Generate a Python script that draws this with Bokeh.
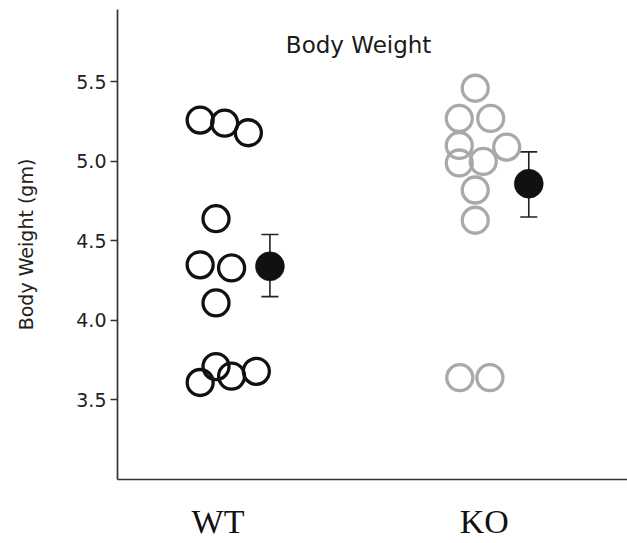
from bokeh.plotting import figure
from bokeh.models import Range1d, FixedTicker, Label, Whisker, ColumnDataSource, TeeHead
from bokeh.embed import file_html
from bokeh.resources import INLINE

# ---- data ----
groups = ["WT", "KO"]
group_pos = [1, 2]

wt_weight = [5.26, 5.24, 5.18, 4.64, 4.35, 4.33, 4.11, 3.61, 3.71, 3.65, 3.68]
wt_jitter = [-0.067, 0.025, 0.114, -0.0075, -0.067, 0.051, -0.0075, -0.067, -0.0075, 0.051, 0.144]

ko_weight = [5.46, 5.27, 5.27, 5.10, 5.09, 4.99, 5.00, 4.82, 4.63, 3.64, 3.64]
ko_jitter = [-0.034, -0.094, 0.024, -0.094, 0.084, -0.094, -0.004, -0.034, -0.034, -0.092, 0.021]

mean_weight = [4.34, 4.86]
sem_low = [4.15, 4.65]
sem_high = [4.54, 5.06]
mean_jitter = [0.195, 0.167]

y_ticks = [3.5, 4.0, 4.5, 5.0, 5.5]

# ---- figure ----
p = figure(width=627, height=543, output_backend="svg", toolbar_location=None,
           x_range=Range1d(0.6226, 2.5377), y_range=Range1d(3.0, 5.955),
           min_border_left=117, min_border_right=0, min_border_top=9, min_border_bottom=64)
p.outline_line_color = None
p.xgrid.visible = False
p.ygrid.visible = False
p.background_fill_color = "white"
p.border_fill_color = "white"

wt_x = [group_pos[0] + j for j in wt_jitter]
ko_x = [group_pos[1] + j for j in ko_jitter]
p.scatter(wt_x, wt_weight, size=26, fill_color=None, line_color="#111111", line_width=3.3)
p.scatter(ko_x, ko_weight, size=26, fill_color=None, line_color="#a9a9a9", line_width=3.3)

mx = [g + j for g, j in zip(group_pos, mean_jitter)]
src = ColumnDataSource(dict(x=mx, m=mean_weight, lo=sem_low, hi=sem_high))
wh = Whisker(source=src, base="x", lower="lo", upper="hi", dimension="height",
             line_color="#222222", line_width=1.6,
             lower_head=TeeHead(size=17, line_color="#222222", line_width=1.6),
             upper_head=TeeHead(size=17, line_color="#222222", line_width=1.6))
p.add_layout(wh)
p.scatter("x", "m", source=src, size=29, fill_color="#111111", line_color="#111111", line_width=0.5)

# title inside plot area
p.add_layout(Label(x=1.528, y=5.734, text="Body Weight", text_align="center",
                   text_baseline="alphabetic", text_font="DejaVu Sans",
                   text_font_size="23px", text_color="#1a1a1a"))

# y axis
ya = p.yaxis[0]
ya.ticker = FixedTicker(ticks=y_ticks)
ya.major_label_overrides = {t: f"{t:.1f}" for t in y_ticks}
ya.minor_tick_line_color = None
ya.major_tick_in = 0
ya.major_tick_out = 7
ya.major_label_standoff = 4
ya.major_label_text_font = "DejaVu Sans"
ya.major_label_text_font_size = "19px"
ya.major_label_text_color = "#222222"
ya.axis_line_color = "#333333"
ya.axis_line_width = 1.7
ya.major_tick_line_color = "#333333"
ya.major_tick_line_width = 1.7
ya.axis_label = "Body Weight (gm)"
ya.axis_label_text_font = "DejaVu Sans"
ya.axis_label_text_font_style = "normal"
ya.axis_label_text_font_size = "19px"
ya.axis_label_text_color = "#222222"
ya.axis_label_standoff = 36

# x axis
xa = p.xaxis[0]
xa.ticker = FixedTicker(ticks=group_pos)
xa.major_label_overrides = {pos: g for pos, g in zip(group_pos, groups)}
xa.minor_tick_line_color = None
xa.major_tick_line_color = None
xa.major_tick_in = 0
xa.major_tick_out = 0
xa.major_label_standoff = 23
xa.major_label_text_font = "Liberation Serif"
xa.major_label_text_font_size = "34px"
xa.major_label_text_color = "#111111"
xa.axis_line_color = "#333333"
xa.axis_line_width = 1.7

open("out.html", "w").write(file_html(p, INLINE))
